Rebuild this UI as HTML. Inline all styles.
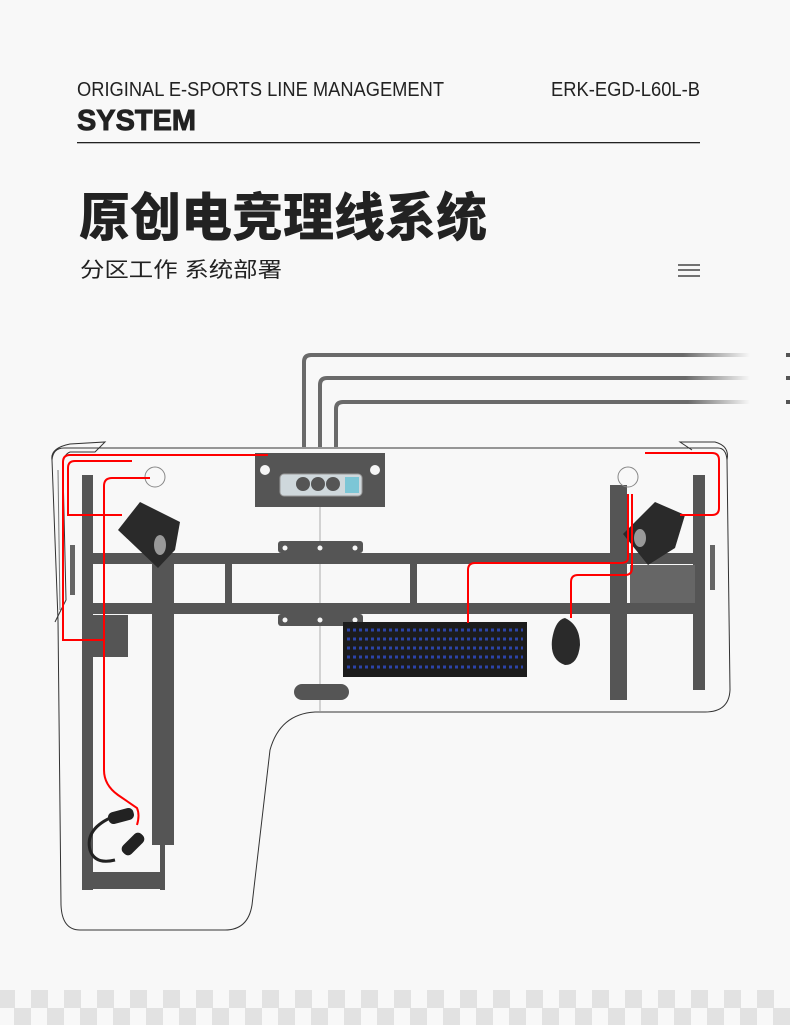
<!DOCTYPE html>
<html><head><meta charset="utf-8"><style>
html,body{margin:0;padding:0;background:#f7f7f7}
svg{display:block}
</style></head><body>
<svg width="790" height="1025" viewBox="0 0 790 1025" xmlns="http://www.w3.org/2000/svg">
<defs>
<linearGradient id="fade" x1="0" x2="1"><stop offset="0.85" stop-color="#6a6a6a"/><stop offset="1" stop-color="#6a6a6a" stop-opacity="0"/></linearGradient>
<pattern id="chk" width="33" height="36" patternUnits="userSpaceOnUse"><rect x="14" y="0" width="17" height="17" fill="#e2e2e2"/><rect x="0" y="18" width="15" height="18" fill="#e2e2e2"/><rect x="31" y="18" width="2" height="18" fill="#e2e2e2"/></pattern>
</defs>
<rect width="790" height="1025" fill="#f8f8f8"/>
<!-- header -->
<text x="77" y="96" font-family="Liberation Sans Narrow, Liberation Sans, sans-serif" font-size="20" fill="#222" textLength="367" lengthAdjust="spacingAndGlyphs">ORIGINAL E-SPORTS LINE MANAGEMENT</text>
<text x="551" y="96" font-family="Liberation Sans Narrow, Liberation Sans, sans-serif" font-size="20" fill="#222" textLength="149" lengthAdjust="spacingAndGlyphs">ERK-EGD-L60L-B</text>
<text x="77" y="130" font-family="Liberation Sans, sans-serif" font-weight="bold" font-size="29" fill="#222" stroke="#222" stroke-width="0.9" textLength="119" lengthAdjust="spacingAndGlyphs">SYSTEM</text>
<rect x="77" y="142" width="623" height="1.3" fill="#222"/>
<text x="79" y="236" font-family="Liberation Sans, 'Noto Sans CJK SC', sans-serif" font-weight="900" font-size="52" fill="#222" textLength="408" lengthAdjust="spacingAndGlyphs">原创电竞理线系统</text>
<text x="80" y="277" font-family="Liberation Sans, 'Noto Sans CJK SC', sans-serif" font-size="21" fill="#222" textLength="202" lengthAdjust="spacingAndGlyphs">分区工作 系统部署</text>
<g stroke="#222" stroke-width="1.2"><line x1="678" y1="265" x2="700" y2="265"/><line x1="678" y1="270" x2="700" y2="270"/><line x1="678" y1="276" x2="700" y2="276"/></g>
<!-- gray cables -->
<g fill="none" stroke="url(#fade)" stroke-width="4">
<path d="M304 447 V362 Q304 355 311 355 H750"/>
<path d="M320 447 V385 Q320 378 327 378 H750"/>
<path d="M336 447 V409 Q336 402 343 402 H750"/>
</g>
<g fill="#555"><rect x="786" y="353" width="4" height="4"/><rect x="786" y="376" width="4" height="4"/><rect x="786" y="400" width="4" height="4"/></g>
<!-- desk outline -->
<g fill="none" stroke="#333" stroke-width="1">
<path d="M64 448 H718 Q726 448 727 460 L730 690 Q729 712 705 712 H315 Q280 714 270 750 L252 905 Q248 930 225 930 H80 Q62 930 61 905 L58 620 L52 460 Q53 448 64 448 Z"/>
<path d="M52 460 Q50 448 70 444 L105 442 L95 452 H70 Q62 455 63 470 L66 600 L55 622"/>
<path d="M727 460 Q730 446 715 442 L680 442 L692 450"/>
<path d="M58 470 L60 610" stroke="#777"/>
</g>
<line x1="320" y1="455" x2="320" y2="712" stroke="#999" stroke-width="0.8"/>
<!-- frame -->
<g fill="#555">
<rect x="82" y="475" width="11" height="415"/>
<rect x="152" y="555" width="22" height="290"/>
<rect x="84" y="872" width="80" height="17"/>
<rect x="160" y="845" width="5" height="45"/>
<rect x="88" y="553" width="617" height="11"/>
<rect x="88" y="603" width="617" height="11"/>
<rect x="225" y="563" width="7" height="42"/>
<rect x="410" y="563" width="7" height="42"/>
<rect x="610" y="485" width="17" height="215"/>
<rect x="693" y="475" width="12" height="215"/>
<rect x="278" y="541" width="85" height="12" rx="3"/>
<rect x="278" y="614" width="85" height="12" rx="3"/>
<rect x="294" y="684" width="55" height="16" rx="8"/>
<rect x="93" y="615" width="35" height="42"/>
<rect x="630" y="565" width="65" height="38" fill="#666"/>
<rect x="255" y="453" width="130" height="54"/>
</g>
<g fill="#f5f5f5"><circle cx="265" cy="470" r="5"/><circle cx="375" cy="470" r="5"/><circle cx="285" cy="548" r="2.5"/><circle cx="320" cy="548" r="2.5"/><circle cx="355" cy="548" r="2.5"/><circle cx="285" cy="620" r="2.5"/><circle cx="320" cy="620" r="2.5"/><circle cx="355" cy="620" r="2.5"/></g>
<rect x="280" y="474" width="82" height="22" rx="4" fill="#cfd8dc" stroke="#999"/>
<rect x="345" y="477" width="14" height="16" fill="#7cc6d6"/>
<g fill="#555"><circle cx="303" cy="484" r="7"/><circle cx="318" cy="484" r="7"/><circle cx="333" cy="484" r="7"/></g>
<ellipse cx="155" cy="477" rx="10" ry="10" fill="none" stroke="#888"/>
<ellipse cx="628" cy="477" rx="10" ry="10" fill="none" stroke="#888"/>
<!-- side rails -->
<g fill="#666"><rect x="70" y="545" width="5" height="50"/><rect x="710" y="545" width="5" height="45"/></g>
<!-- speakers -->
<g fill="#2a2a2a"><path d="M118 530 L140 502 L180 522 L175 550 L158 568 Z"/><path d="M623 534 L655 502 L685 515 L675 548 L648 565 Z"/></g>
<ellipse cx="160" cy="545" rx="6" ry="10" fill="#999"/><ellipse cx="640" cy="538" rx="6" ry="9" fill="#999"/>
<!-- keyboard & mouse -->
<rect x="343" y="622" width="184" height="55" fill="#1c1c1c"/>
<g stroke="#2c44a8" stroke-width="3" stroke-dasharray="3 3"><line x1="347" y1="630" x2="523" y2="630"/><line x1="347" y1="639" x2="523" y2="639"/><line x1="347" y1="648" x2="523" y2="648"/><line x1="347" y1="657" x2="523" y2="657"/><line x1="347" y1="667" x2="523" y2="667"/></g>
<path d="M565 618 Q580 625 580 645 Q578 665 565 665 Q550 660 552 640 Q555 620 565 618Z" fill="#2a2a2a"/>
<!-- headphones -->
<path d="M110 818 Q85 830 90 850 Q95 865 115 860" fill="none" stroke="#222" stroke-width="3"/>
<rect x="108" y="810" width="26" height="12" rx="5" fill="#222" transform="rotate(-15 121 816)"/>
<rect x="120" y="838" width="26" height="12" rx="5" fill="#222" transform="rotate(-45 133 844)"/>
<!-- red cables -->
<g fill="none" stroke="#f00" stroke-width="2">
<path d="M268 455 H70 Q63 455 63 462 V640 H105"/>
<path d="M132 461 H75 Q68 461 68 468 V515 H122"/>
<path d="M150 478 H112 Q104 478 104 486 V770 Q104 785 118 795 L137 808 Q140 815 137 825"/>
<path d="M645 453 H712 Q719 453 719 460 V508 Q719 515 712 515 H680"/>
<path d="M628 494 V558 Q628 563 620 563 H475 Q468 563 468 570 V623"/>
<path d="M632 494 V568 Q632 575 625 575 H578 Q571 575 571 582 V618"/>
</g>
<!-- checker -->
<rect x="0" y="990" width="790" height="35" fill="url(#chk)"/>
</svg>
</body></html>
